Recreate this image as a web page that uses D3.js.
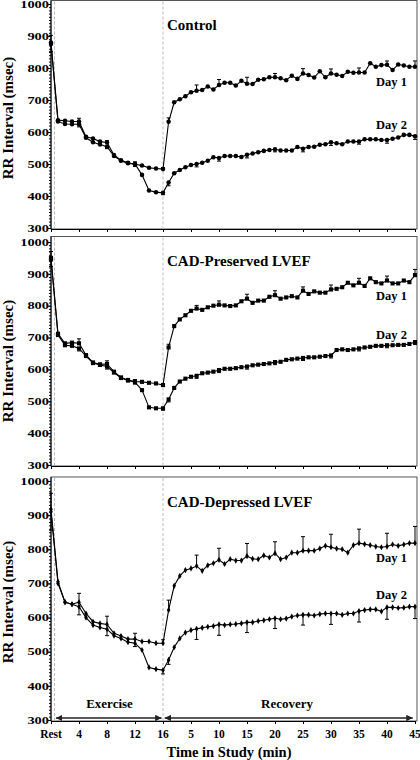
<!DOCTYPE html>
<html><head><meta charset="utf-8">
<script src="https://cdn.jsdelivr.net/npm/d3@7"></script>
<style>
body{margin:0;background:#fff}
svg{display:block}
text{font-family:"Liberation Serif","Times New Roman",serif;font-weight:bold;fill:#000}
</style>
</head><body><svg id="c" width="420" height="760"></svg>
<script>
// ---------------- DATA ----------------
// index 0 = Rest, 1..16 = exercise minutes, 17..61 = recovery minutes 1..45
const xTickIdx    = [0,4,8,12,16,21,26,31,36,41,46,51,56,61];
const xTickLabels = ["Rest","4","8","12","16","5","10","15","20","25","30","35","40","45"];
const yTicks      = [300,400,500,600,700,800,900,1000];
const panelTitles = ["Control","CAD-Preserved LVEF","CAD-Depressed LVEF"];
const seriesNames = ["Day 1","Day 2"];
const phaseLabels = ["Exercise","Recovery"];
const yTitle = "RR Interval (msec)";
const xTitle = "Time in Study (min)";
const errIdx = [0,4,8,12,16,17,22,26,31,36,41,46,51,56,61];

const controlDay1 = [880,637,635,633,633,585,580,570,567,528,512,504,499,495,488,486,484,
  632,693,702,712,724,729,731,742,733,747,754,754,745,760,751,750,763,765,771,771,768,762,776,766,783,
  778,770,790,771,783,779,775,788,785,786,786,815,804,809,810,794,811,808,804,804];
const controlDay2 = [875,633,625,624,624,582,568,561,554,525,510,502,500,466,417,412,410,
  442,471,481,490,497,500,504,510,521,519,525,525,525,522,529,533,537,541,544,546,542,542,542,553,548,
  553,554,560,562,568,565,562,570,570,570,577,577,577,575,575,579,583,591,591,587];
const preservedDay1 = [950,712,682,684,682,645,622,616,617,593,575,567,562,561,558,556,551,
  669,736,757,770,784,791,787,795,800,803,801,799,801,814,822,809,816,816,828,833,822,826,830,826,847,
  837,845,841,841,851,853,858,872,864,872,862,886,874,870,879,870,870,879,874,896];
const preservedDay2 = [945,708,676,674,666,642,620,614,609,590,573,565,560,535,481,478,478,
  506,542,562,571,577,580,588,590,593,598,602,602,604,607,609,613,615,617,619,623,624,630,632,634,636,
  638,638,640,642,644,661,663,661,663,666,669,671,674,674,676,676,677,677,680,686];
const depressedDay1 = [917,705,645,639,645,612,588,583,580,554,546,537,537,530,530,525,525,
  622,693,722,739,744,751,737,753,759,769,757,771,767,767,780,772,771,782,776,788,771,776,790,790,796,
  796,796,802,810,806,802,800,790,812,818,815,812,808,806,808,814,810,814,818,818];
const depressedDay2 = [910,700,645,639,632,600,578,571,566,547,539,528,525,505,454,449,446,
  476,513,539,556,563,567,570,573,575,580,578,580,581,583,586,586,590,592,595,598,595,597,603,606,608,
  608,606,610,612,612,612,608,612,612,619,622,624,624,618,630,630,628,629,632,632];

// error bars (SE) at errIdx; Day 1 drawn upward, Day 2 downward
const controlErr1   = [22,10,6,8,5,12,18,17,20,12,15,14,14,12,18];
const controlErr2   = [24,8,6,8,6,10,9,10,10,8,10,10,8,10,10];
const preservedErr1 = [20,14,10,6,5,10,10,12,14,14,12,14,14,14,18];
const preservedErr2 = [22,8,8,6,6,8,8,8,8,8,8,8,8,8,8];
const depressedErr1 = [47,26,24,17,10,29,32,34,37,34,41,38,41,39,49];
const depressedErr2 = [54,24,19,10,11,13,31,32,30,30,30,32,32,35,35];

// ---------------- LAYOUT ----------------
const panels = [
  {title:panelTitles[0], d1:controlDay1, d2:controlDay2, e1:controlErr1, e2:controlErr2,
   top:0.5, y1000:4, y300:228, titleY:30, day1Y:86, day2Y:129, sym:"circle", yLabC:118},
  {title:panelTitles[1], d1:preservedDay1, d2:preservedDay2, e1:preservedErr1, e2:preservedErr2,
   top:236.5, y1000:242, y300:465, titleY:265.5, day1Y:300, day2Y:339, sym:"square", yLabC:361},
  {title:panelTitles[2], d1:depressedDay1, d2:depressedDay2, e1:depressedErr1, e2:depressedErr2,
   top:477, y1000:481, y300:720, titleY:506.5, day1Y:562, day2Y:599, sym:"diamond", yLabC:602}
];
const left = 51, right = 417;
const x = d3.scaleLinear().domain([0,16,61]).range([51,163,415]);

const svg = d3.select("#c");
const defs = svg.append("defs");
["start","end"].forEach(k=>{
  defs.append("marker").attr("id","ar-"+k)
    .attr("viewBox","0 0 10 10").attr("refX", k==="end"?10:0).attr("refY",5)
    .attr("markerWidth",6.5).attr("markerHeight",6.5).attr("markerUnits","userSpaceOnUse")
    .attr("orient","auto")
    .append("path").attr("d", k==="end" ? "M0,0L10,5L0,10Z" : "M10,0L0,5L10,10Z").attr("fill","#222");
});

panels.forEach((p,pi)=>{
  const y = d3.scaleLinear().domain([300,1000]).range([p.y300,p.y1000]);
  const g = svg.append("g");
  const bottom = p.y300 + 1;

  // frame
  g.append("rect").attr("x",left).attr("y",p.top).attr("width",right-left).attr("height",bottom-p.top)
    .attr("fill","none").attr("stroke","#555").attr("stroke-width",1);

  // dashed reference lines
  [0.5,16].forEach(v=>{
    g.append("line").attr("x1",x(v)).attr("x2",x(v)).attr("y1",p.top+1).attr("y2",bottom)
      .attr("stroke","#bbb").attr("stroke-width",1).attr("stroke-dasharray","3,2");
  });

  // y axis with major and minor ticks
  const yAxis = d3.axisLeft(y).tickValues(yTicks).tickSize(4).tickFormat("");
  const ga = g.append("g").attr("transform",`translate(${left},0)`).call(yAxis);
  ga.select(".domain").attr("d",`M0,${p.top}V${bottom}`).attr("stroke","#000");
  const minor = d3.range(300,1001,10);
  g.append("g").attr("transform",`translate(${left},0)`).call(d3.axisLeft(y).tickValues(minor).tickSize(2).tickFormat(""))
    .select(".domain").remove();
  yTicks.forEach(v=>{
    const s = String(v);
    g.append("text").attr("x",49).attr("y",y(v)).attr("dy","0.36em").attr("text-anchor","end")
      .attr("font-size",10.5).attr("textLength",s.length*7.2).attr("lengthAdjust","spacingAndGlyphs").text(s);
  });

  // x axis ticks
  const xa = g.append("g").attr("transform",`translate(0,${bottom})`)
    .call(d3.axisBottom(x).tickValues(xTickIdx).tickSize(3).tickFormat(""));
  xa.select(".domain").attr("stroke","#000");
  if (pi === 2) {
    xTickIdx.forEach((v,i)=>{
      g.append("text").attr("x",x(v)).attr("y",738).attr("text-anchor","middle")
        .attr("font-size",11.5).text(xTickLabels[i]);
    });
    g.append("text").attr("x",229).attr("y",756.5).attr("text-anchor","middle").attr("font-size",14.5).text(xTitle);
    // phase arrows
    g.append("line").attr("x1",x(0.7)).attr("x2",x(15.8)).attr("y1",718).attr("y2",718)
      .attr("stroke","#222").attr("stroke-width",1.4)
      .attr("marker-start","url(#ar-start)").attr("marker-end","url(#ar-end)");
    g.append("line").attr("x1",x(16.3)).attr("x2",x(60.6)).attr("y1",718).attr("y2",718)
      .attr("stroke","#222").attr("stroke-width",1.4)
      .attr("marker-start","url(#ar-start)").attr("marker-end","url(#ar-end)");
    g.append("text").attr("x",109.5).attr("y",708).attr("text-anchor","middle").attr("font-size",13).text(phaseLabels[0]);
    g.append("text").attr("x",287).attr("y",708).attr("text-anchor","middle").attr("font-size",13).text(phaseLabels[1]);
  }

  // y axis title
  g.append("text").attr("transform",`translate(13,${p.yLabC}) rotate(-90)`).attr("text-anchor","middle")
    .attr("font-size",15).text(yTitle);

  // panel title
  g.append("text").attr("x",167).attr("y",p.titleY).attr("font-size",15).text(p.title);

  // series
  const line = d3.line().x((d,i)=>x(i)).y(d=>y(d));
  [[p.d1,p.e1,-1],[p.d2,p.e2,1]].forEach(([data,err,dir])=>{
    g.append("path").attr("d",line(data)).attr("fill","none").attr("stroke","#000").attr("stroke-width",1.1);
    errIdx.forEach((ix,k)=>{
      const x0 = x(ix), ya = y(data[ix]), yb = y(data[ix] - dir*err[k]);
      g.append("line").attr("x1",x0).attr("x2",x0).attr("y1",ya).attr("y2",yb).attr("stroke","#000").attr("stroke-width",1);
      g.append("line").attr("x1",x0-2).attr("x2",x0+2).attr("y1",yb).attr("y2",yb).attr("stroke","#000").attr("stroke-width",1);
    });
    const symType = p.sym==="circle" ? d3.symbolCircle : p.sym==="square" ? d3.symbolSquare : d3.symbolDiamond;
    const symSize = p.sym==="circle" ? 16 : p.sym==="square" ? 17 : 11;
    g.append("g").selectAll("path").data(data).join("path")
      .attr("transform",(d,i)=>`translate(${x(i)},${y(d)})`)
      .attr("d",d3.symbol().type(symType).size(symSize)).attr("fill","#000");
  });

  // series labels
  g.append("text").attr("x",376).attr("y",p.day1Y).attr("font-size",12.5).text(seriesNames[0]);
  g.append("text").attr("x",376).attr("y",p.day2Y).attr("font-size",12.5).text(seriesNames[1]);
});
</script>
</body></html>
